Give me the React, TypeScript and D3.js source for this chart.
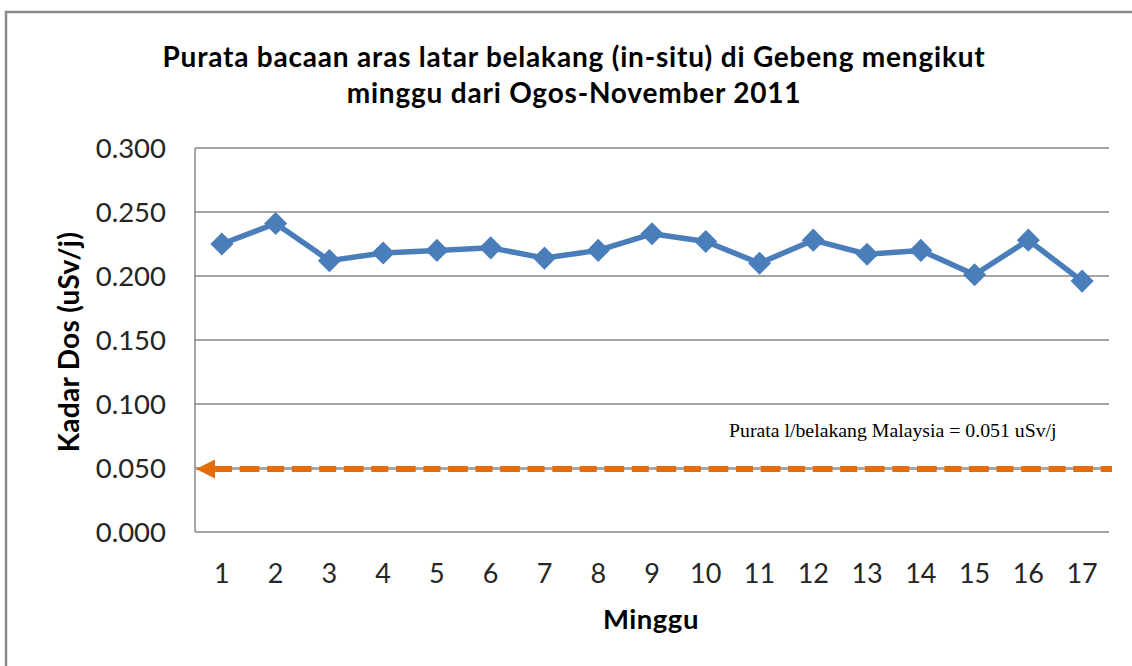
import React from "react";
import * as d3 from "d3";

// minggu (week) 1..17
const weeks = [1, 2, 3, 4, 5, 6, 7, 8, 9, 10, 11, 12, 13, 14, 15, 16, 17];
// purata bacaan (uSv/j)
const doseValues = [
  0.225, 0.241, 0.212, 0.218, 0.22, 0.222, 0.214, 0.22, 0.233,
  0.227, 0.21, 0.228, 0.217, 0.22, 0.201, 0.228, 0.196,
];
const yTicks = [0, 0.05, 0.1, 0.15, 0.2, 0.25, 0.3];
const malaysiaAvg = 0.05;
const malaysiaLabel = "Purata l/belakang Malaysia = 0.051 uSv/j";
const titleLines = [
  "Purata bacaan aras latar belakang (in-situ) di Gebeng mengikut",
  "minggu dari Ogos-November 2011",
];

const W = 1132;
const H = 666;
const FONT = "Lato, 'Open Sans', sans-serif";

export default function App() {
  const left = 195;
  const right = 1109;
  const top = 148;
  const bottom = 532;

  const x = d3.scaleBand<number>().domain(weeks).range([left, right]);
  const y = d3.scaleLinear().domain([0, 0.3]).range([bottom, top]);
  const cx = (w: number) => (x(w) as number) + x.bandwidth() / 2;

  const line = d3
    .line<number>()
    .x((_, i) => cx(weeks[i]))
    .y((d) => y(d));

  const diamond = d3.symbol().type(d3.symbolDiamond2).size(340);
  const refY = y(malaysiaAvg);

  return (
    <div style={{ position: "fixed", left: 0, top: 0 }}>
      <svg width={W} height={H} style={{ display: "block", background: "#fff" }}>
        <rect x={6} y={12} width={W + 20} height={H + 20} fill="#fff" stroke="#8a8a8a" strokeWidth={2.5} />

        {/* title */}
        <g fontFamily={FONT} fontWeight="bold" fontSize={28} letterSpacing={0.8} textAnchor="middle" fill="#000">
          {titleLines.map((t, i) => (
            <text key={i} x={574} y={67 + i * 36}>
              {t}
            </text>
          ))}
        </g>

        {/* gridlines */}
        {yTicks.map((t) => (
          <line key={t} x1={left} x2={right} y1={y(t)} y2={y(t)} stroke="#878787" strokeWidth={1.5} />
        ))}
        <line x1={left} x2={left} y1={top} y2={bottom} stroke="#878787" strokeWidth={1.5} />

        {/* y tick labels */}
        <g fontFamily={FONT} fontSize={27.5} textAnchor="end" fill="#262626">
          {yTicks.map((t) => (
            <text key={t} x={166} y={y(t) + 10}>
              {d3.format(".3f")(t)}
            </text>
          ))}
        </g>

        {/* x tick labels */}
        <g fontFamily={FONT} fontSize={27} textAnchor="middle" fill="#262626">
          {weeks.map((w) => (
            <text key={w} x={cx(w)} y={583}>
              {w}
            </text>
          ))}
        </g>

        {/* axis titles */}
        <text x={651} y={629} fontFamily={FONT} fontWeight="bold" fontSize={27.5} letterSpacing={0.5} textAnchor="middle">
          Minggu
        </text>
        <text
          transform={`translate(79,342) rotate(-90)`}
          fontFamily={FONT}
          fontWeight="bold"
          fontSize={28}
          letterSpacing={0.3}
          textAnchor="middle"
        >
          Kadar Dos (uSv/j)
        </text>

        {/* Malaysia average reference */}
        <line x1={left} x2={1112} y1={refY + 1} y2={refY + 1} stroke="#a6a6a6" strokeWidth={2} />
        <line
          x1={215}
          x2={1112}
          y1={refY + 1}
          y2={refY + 1}
          stroke="#e46c0a"
          strokeWidth={6}
          strokeDasharray="17 7.7 19.7 7.7"
        />
        <path
          d={`M${left + 1},${refY + 1} L${left + 20},${refY - 8.5} L${left + 20},${refY + 10.5} Z`}
          fill="#e46c0a"
        />
        <text x={729} y={437} fontFamily="'Liberation Serif', 'Times New Roman', serif" fontSize={19.8} fill="#000">
          {malaysiaLabel}
        </text>

        {/* series */}
        <path d={line(doseValues) || ""} fill="none" stroke="#4a7ebb" strokeWidth={5.5} strokeLinejoin="round" />
        {doseValues.map((v, i) => (
          <path
            key={i}
            d={diamond() || ""}
            transform={`translate(${cx(weeks[i])},${y(v)})`}
            fill="#4a7ebb"
          />
        ))}
      </svg>
    </div>
  );
}
